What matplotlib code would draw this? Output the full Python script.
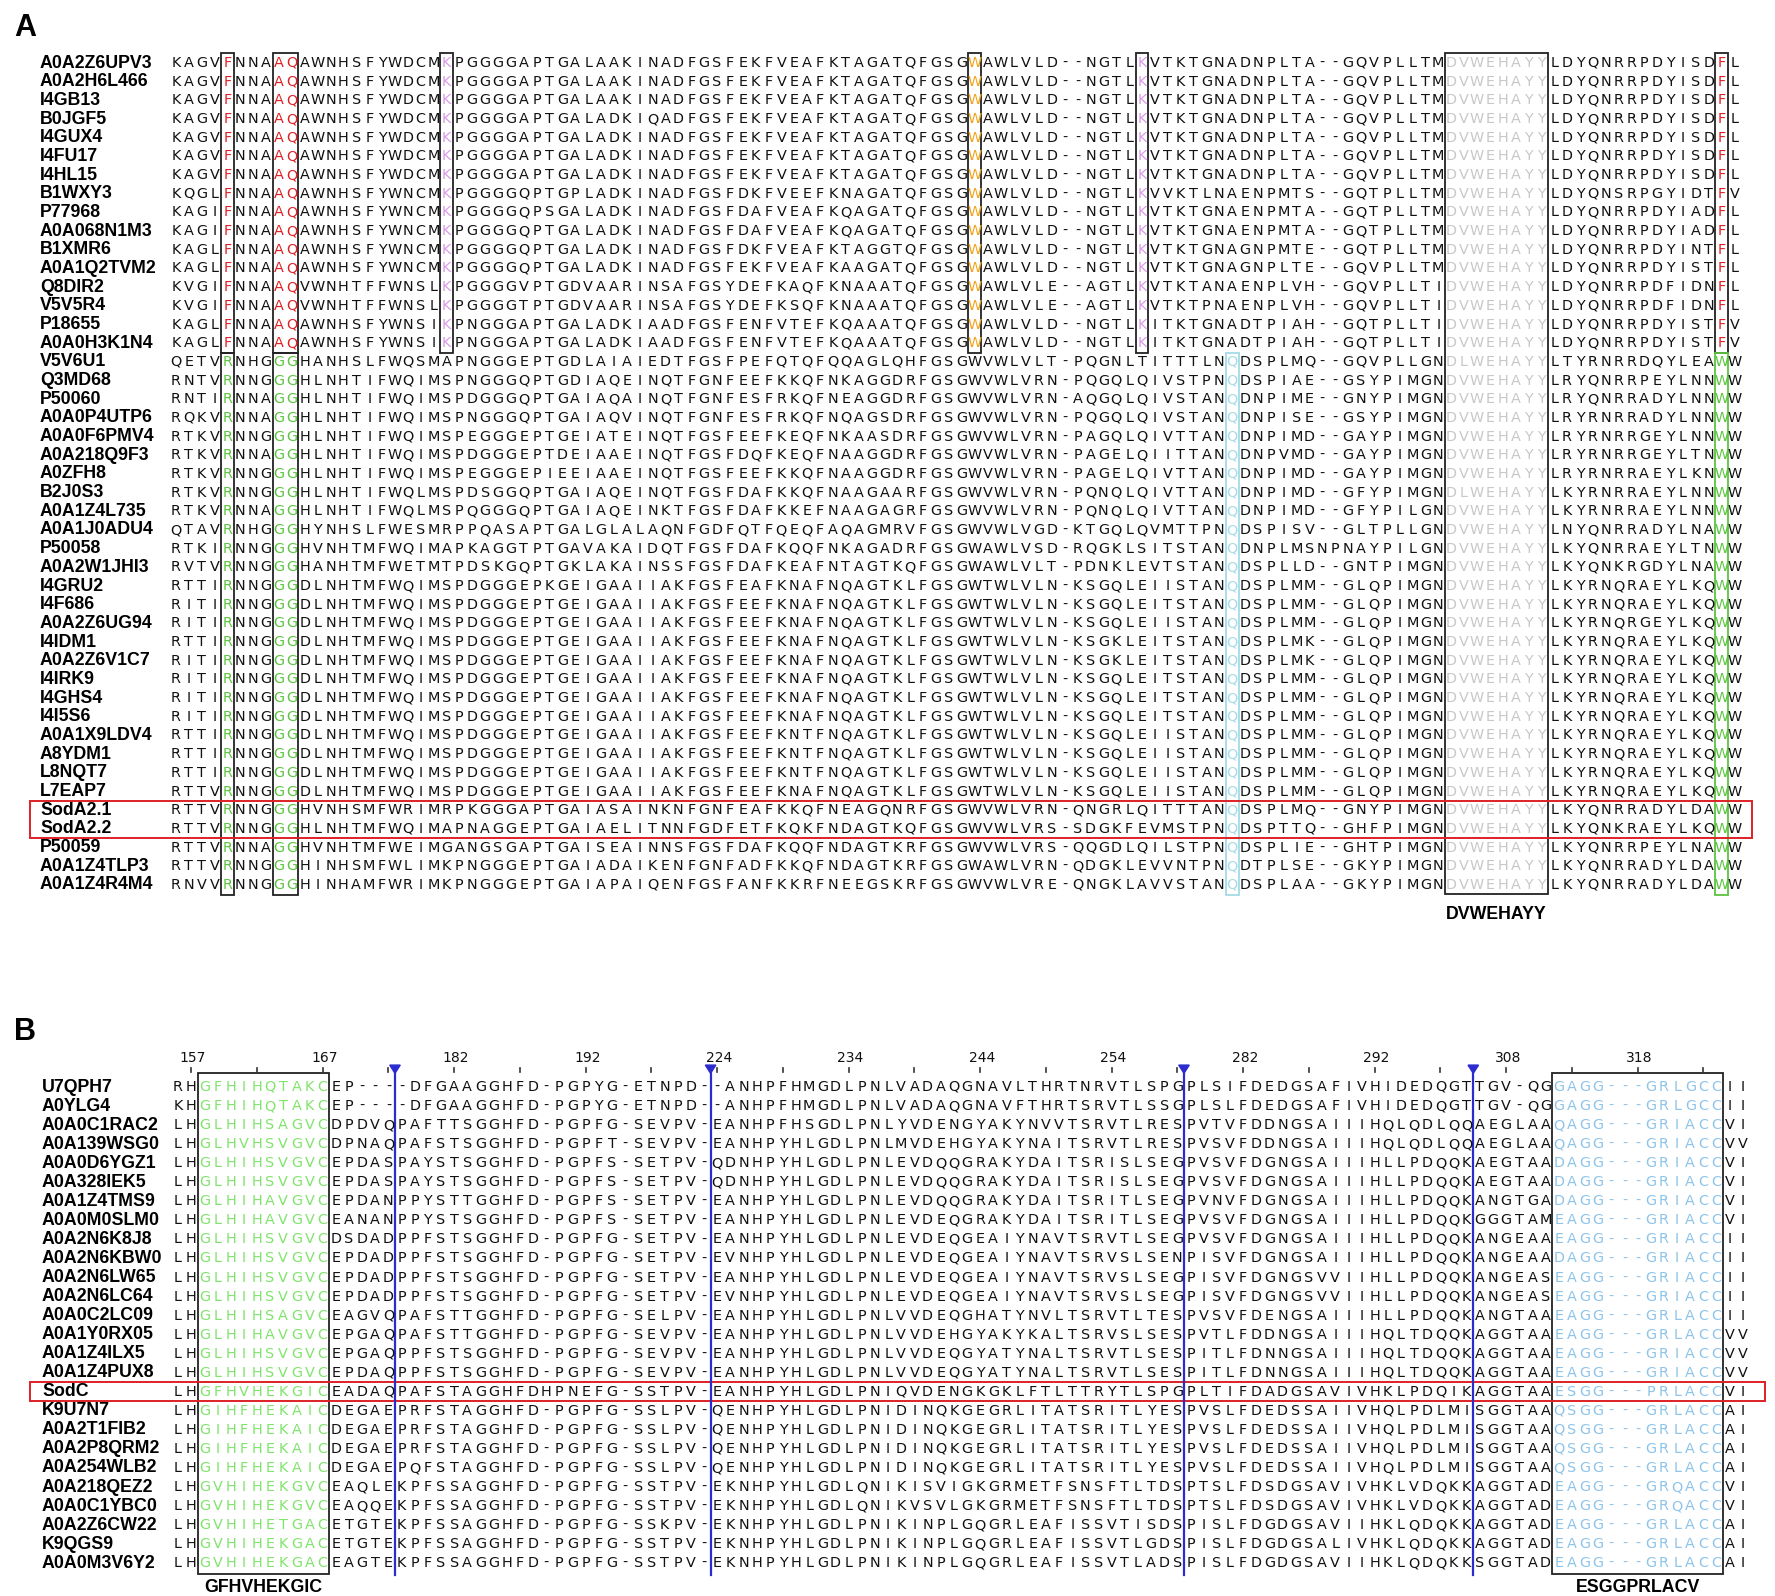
import matplotlib
matplotlib.use('Agg')
import matplotlib.pyplot as plt
from matplotlib.patches import Rectangle, Polygon

# ---------------- panel A : alignment (spaces only separate blocks) ----------------
names_a = ['A0A2Z6UPV3', 'A0A2H6L466', 'I4GB13', 'B0JGF5', 'I4GUX4', 'I4FU17', 'I4HL15',
           'B1WXY3', 'P77968', 'A0A068N1M3', 'B1XMR6', 'A0A1Q2TVM2', 'Q8DIR2', 'V5V5R4',
           'P18655', 'A0A0H3K1N4',
           'V5V6U1', 'Q3MD68', 'P50060', 'A0A0P4UTP6', 'A0A0F6PMV4', 'A0A218Q9F3', 'A0ZFH8',
           'B2J0S3', 'A0A1Z4L735', 'A0A1J0ADU4', 'P50058', 'A0A2W1JHI3', 'I4GRU2', 'I4F686',
           'A0A2Z6UG94', 'I4IDM1', 'A0A2Z6V1C7', 'I4IRK9', 'I4GHS4', 'I4I5S6', 'A0A1X9LDV4',
           'A8YDM1', 'L8NQT7', 'L7EAP7', 'SodA2.1', 'SodA2.2', 'P50059', 'A0A1Z4TLP3',
           'A0A1Z4R4M4']

seqs_a = [
    "KAGV F NNA AQ AWNHSFYWDCM K PGGGGAPTGALAAK INADFGSFEKFVEAFKTAGATQFGSG W AWLVLD--NGTL K VTKTGN A DNPLTA--GQVPLLTM DVWEHAYY LDYQNRRPDYISD F L",
    "KAGV F NNA AQ AWNHSFYWDCM K PGGGGAPTGALAAK INADFGSFEKFVEAFKTAGATQFGSG W AWLVLD--NGTL K VTKTGN A DNPLTA--GQVPLLTM DVWEHAYY LDYQNRRPDYISD F L",
    "KAGV F NNA AQ AWNHSFYWDCM K PGGGGAPTGALAAK INADFGSFEKFVEAFKTAGATQFGSG W AWLVLD--NGTL K VTKTGN A DNPLTA--GQVPLLTM DVWEHAYY LDYQNRRPDYISD F L",
    "KAGV F NNA AQ AWNHSFYWDCM K PGGGGAPTGALADK IQADFGSFEKFVEAFKTAGATQFGSG W AWLVLD--NGTL K VTKTGN A DNPLTA--GQVPLLTM DVWEHAYY LDYQNRRPDYISD F L",
    "KAGV F NNA AQ AWNHSFYWDCM K PGGGGAPTGALADK INADFGSFEKFVEAFKTAGATQFGSG W AWLVLD--NGTL K VTKTGN A DNPLTA--GQVPLLTM DVWEHAYY LDYQNRRPDYISD F L",
    "KAGV F NNA AQ AWNHSFYWDCM K PGGGGAPTGALADK INADFGSFEKFVEAFKTAGATQFGSG W AWLVLD--NGTL K VTKTGN A DNPLTA--GQVPLLTM DVWEHAYY LDYQNRRPDYISD F L",
    "KAGV F NNA AQ AWNHSFYWDCM K PGGGGAPTGALADK INADFGSFEKFVEAFKTAGATQFGSG W AWLVLD--NGTL K VTKTGN A DNPLTA--GQVPLLTM DVWEHAYY LDYQNRRPDYISD F L",
    "KQGL F NNA AQ AWNHSFYWNCM K PGGGGQPTGPLADK INADFGSFDKFVEEFKNAGATQFGSG W AWLVLD--NGTL K VVKTLN A ENPMTS--GQTPLLTM DVWEHAYY LDYQNSRPGYIDT F V",
    "KAGI F NNA AQ AWNHSFYWNCM K PGGGGQPSGALADK INADFGSFDAFVEAFKQAGATQFGSG W AWLVLD--NGTL K VTKTGN A ENPMTA--GQTPLLTM DVWEHAYY LDYQNRRPDYIAD F L",
    "KAGI F NNA AQ AWNHSFYWNCM K PGGGGQPTGALADK INADFGSFDAFVEAFKQAGATQFGSG W AWLVLD--NGTL K VTKTGN A ENPMTA--GQTPLLTM DVWEHAYY LDYQNRRPDYIAD F L",
    "KAGL F NNA AQ AWNHSFYWNCM K PGGGGQPTGALADK INADFGSFDKFVEAFKTAGGTQFGSG W AWLVLD--NGTL K VTKTGN A GNPMTE--GQTPLLTM DVWEHAYY LDYQNRRPDYINT F L",
    "KAGL F NNA AQ AWNHSFYWNCM K PGGGGQPTGALADK INADFGSFEKFVEAFKAAGATQFGSG W AWLVLD--NGTL K VTKTGN A GNPLTE--GQVPLLTM DVWEHAYY LDYQNRRPDYIST F L",
    "KVGI F NNA AQ VWNHTFFWNSL K PGGGGVPTGDVAAR INSAFGSYDEFKAQFKNAAATQFGSG W AWLVLE--AGTL K VTKTAN A ENPLVH--GQVPLLTI DVWEHAYY LDYQNRRPDFIDN F L",
    "KVGI F NNA AQ VWNHTFFWNSL K PGGGGTPTGDVAAR INSAFGSYDEFKSQFKNAAATQFGSG W AWLVLE--AGTL K VTKTPN A ENPLVH--GQVPLLTI DVWEHAYY LDYQNRRPDFIDN F L",
    "KAGL F NNA AQ AWNHSFYWNSI K PNGGGAPTGALADK IAADFGSFENFVTEFKQAAATQFGSG W AWLVLD--NGTL K ITKTGN A DTPIAH--GQTPLLTI DVWEHAYY LDYQNRRPDYIST F V",
    "KAGL F NNA AQ AWNHSFYWNSI K PNGGGAPTGALADK IAADFGSFENFVTEFKQAAATQFGSG W AWLVLD--NGTL K ITKTGN A DTPIAH--GQTPLLTI DVWEHAYY LDYQNRRPDYIST F V",
    "QETV R NHG GG HANHSLFWQSM A PNGGGEPTGDLAIA IEDTFGSFPEFQTQFQQAGLQHFGSG W VWLVLT-PQGNL T ITTTLN Q DSPLMQ--GQVPLLGN DLWEHAYY LTYRNRRDQYLEA W W",
    "RNTV R NNG GG HLNHTIFWQIM S PNGGGQPTGDIAQE INQTFGNFEEFKKQFNKAGGDRFGSG W VWLVRN-PQGQL Q IVSTPN Q DSPIAE--GSYPIMGN DVWEHAYY LRYQNRRPEYLNN W W",
    "RNTI R NNA GG HLNHTIFWQIM S PDGGGQPTGAIAQA INQTFGNFESFRKQFNEAGGDRFGSG W VWLVRN-AQGQL Q IVSTAN Q DNPIME--GNYPIMGN DVWEHAYY LRYQNRRADYLNN W W",
    "RQKV R NNA GG HLNHTIFWQIM S PNGGGQPTGAIAQV INQTFGNFESFRKQFNQAGSDRFGSG W VWLVRN-PQGQL Q IVSTAN Q DNPISE--GSYPIMGN DVWEHAYY LRYRNRRADYLNN W W",
    "RTKV R NNG GG HLNHTIFWQIM S PEGGGEPTGEIATE INQTFGSFEEFKEQFNKAASDRFGSG W VWLVRN-PAGQL Q IVTTAN Q DNPIMD--GAYPIMGN DVWEHAYY LRYRNRRGEYLNN W W",
    "RTKV R NNA GG HLNHTIFWQIM S PDGGGEPTDEIAAE INQTFGSFDQFKEQFNAAGGDRFGSG W VWLVRN-PAGEL Q IITTAN Q DNPVMD--GAYPIMGN DVWEHAYY LRYRNRRGEYLTN W W",
    "RTKV R NNG GG HLNHTIFWQIM S PEGGGEPIEEIAAE INQTFGSFEEFKKQFNAAGGDRFGSG W VWLVRN-PAGEL Q IVTTAN Q DNPIMD--GAYPIMGN DVWEHAYY LRYRNRRAEYLKN W W",
    "RTKV R NNG GG HLNHTIFWQLM S PDSGGQPTGAIAQE INQTFGSFDAFKKQFNAAGAARFGSG W VWLVRN-PQNQL Q IVTTAN Q DNPIMD--GFYPIMGN DLWEHAYY LKYRNRRAEYLNN W W",
    "RTKV R NNA GG HLNHTIFWQLM S PQGGGQPTGAIAQE INKTFGSFDAFKKEFNAAGAGRFGSG W VWLVRN-PQNQL Q IVTTAN Q DNPIMD--GFYPILGN DVWEHAYY LKYRNRRAEYLNN W W",
    "QTAV R NHG GG HYNHSLFWESM R PPQASAPTGALGLA LAQNFGDFQTFQEQFAQAGMRVFGSG W VWLVGD-KTGQL Q VMTTPN Q DSPISV--GLTPLLGN DVWEHAYY LNYQNRRADYLNA W W",
    "RTKI R NNG GG HVNHTMFWQIM A PKAGGTPTGAVAKA IDQTFGSFDAFKQQFNKAGADRFGSG W AWLVSD-RQGKL S ITSTAN Q DNPLMSNPNAYPILGN DVWEHAYY LKYQNRRAEYLTN W W",
    "RVTV R NNG GG HANHTMFWETM T PDSKGQPTGKLAKA INSSFGSFDAFKEAFNTAGTKQFGSG W AWLVLT-PDNKL E VTSTAN Q DSPLLD--GNTPIMGN DVWEHAYY LKYQNKRGDYLNA W W",
    "RTTI R NNG GG DLNHTMFWQIM S PDGGGEPKGEIGAA IIAKFGSFEAFKNAFNQAGTKLFGSG W TWLVLN-KSGQL E IISTAN Q DSPLMM--GLQPIMGN DVWEHAYY LKYRNQRAEYLKQ W W",
    "RITI R NNG GG DLNHTMFWQIM S PDGGGEPTGEIGAA IIAKFGSFEEFKNAFNQAGTKLFGSG W TWLVLN-KSGQL E ITSTAN Q DSPLMM--GLQPIMGN DVWEHAYY LKYRNQRAEYLKQ W W",
    "RITI R NNG GG DLNHTMFWQIM S PDGGGEPTGEIGAA IIAKFGSFEEFKNAFNQAGTKLFGSG W TWLVLN-KSGQL E IISTAN Q DSPLMM--GLQPIMGN DVWEHAYY LKYRNQRGEYLKQ W W",
    "RTTI R NNG GG DLNHTMFWQIM S PDGGGEPTGEIGAA IIAKFGSFEEFKNAFNQAGTKLFGSG W TWLVLN-KSGKL E ITSTAN Q DSPLMK--GLQPIMGN DVWEHAYY LKYRNQRAEYLKQ W W",
    "RITI R NNG GG DLNHTMFWQIM S PDGGGEPTGEIGAA IIAKFGSFEEFKNAFNQAGTKLFGSG W TWLVLN-KSGKL E ITSTAN Q DSPLMK--GLQPIMGN DVWEHAYY LKYRNQRAEYLKQ W W",
    "RITI R NNG GG DLNHTMFWQIM S PDGGGEPTGEIGAA IIAKFGSFEEFKNAFNQAGTKLFGSG W TWLVLN-KSGQL E ITSTAN Q DSPLMM--GLQPIMGN DVWEHAYY LKYRNQRAEYLKQ W W",
    "RITI R NNG GG DLNHTMFWQIM S PDGGGEPTGEIGAA IIAKFGSFEEFKNAFNQAGTKLFGSG W TWLVLN-KSGQL E ITSTAN Q DSPLMM--GLQPIMGN DVWEHAYY LKYRNQRAEYLKQ W W",
    "RITI R NNG GG DLNHTMFWQIM S PDGGGEPTGEIGAA IIAKFGSFEEFKNAFNQAGTKLFGSG W TWLVLN-KSGQL E ITSTAN Q DSPLMM--GLQPIMGN DVWEHAYY LKYRNQRAEYLKQ W W",
    "RTTI R NNG GG DLNHTMFWQIM S PDGGGEPTGEIGAA IIAKFGSFEEFKNTFNQAGTKLFGSG W TWLVLN-KSGQL E IISTAN Q DSPLMM--GLQPIMGN DVWEHAYY LKYRNQRAEYLKQ W W",
    "RTTI R NNG GG DLNHTMFWQIM S PDGGGEPTGEIGAA IIAKFGSFEEFKNTFNQAGTKLFGSG W TWLVLN-KSGQL E IISTAN Q DSPLMM--GLQPIMGN DVWEHAYY LKYRNQRAEYLKQ W W",
    "RTTI R NNG GG DLNHTMFWQIM S PDGGGEPTGEIGAA IIAKFGSFEEFKNTFNQAGTKLFGSG W TWLVLN-KSGQL E IISTAN Q DSPLMM--GLQPIMGN DVWEHAYY LKYRNQRAEYLKQ W W",
    "RTTV R NNG GG DLNHTMFWQIM S PDGGGEPTGEIGAA IIAKFGSFEEFKNAFNQAGTKLFGSG W TWLVLN-KSGQL E IISTAN Q DSPLMM--GLQPIMGN DVWEHAYY LKYRNQRAEYLKQ W W",
    "RTTV R NNG GG HVNHSMFWRIM R PKGGGAPTGAIASA INKNFGNFEAFKKQFNEAGQNRFGSG W VWLVRN-QNGRL Q ITTTAN Q DSPLMQ--GNYPIMGN DVWEHAYY LKYQNRRADYLDA W W",
    "RTTV R NNG GG HLNHTMFWQIM A PNAGGEPTGAIAEL ITNNFGDFETFKQKFNDAGTKQFGSG W VWLVRS-SDGKF E VMSTPN Q DSPTTQ--GHFPIMGN DVWEHAYY LKYQNKRAEYLKQ W W",
    "RTTV R NNA GG HVNHTMFWEIM G ANGSGAPTGAISEA INNSFGSFDAFKQQFNDAGTKRFGSG W VWLVRS-QQGDL Q ILSTPN Q DSPLIE--GHTPIMGN DVWEHAYY LKYQNRRPEYLNA W W",
    "RTTV R NNG GG HINHSMFWLIM K PNGGGEPTGAIADA IKENFGNFADFKKQFNDAGTKRFGSG W AWLVRN-QDGKL E VVNTPN Q DTPLSE--GKYPIMGN DVWEHAYY LKYQNRRADYLDA W W",
    "RNVV R NNG GG HINHAMFWRIM K PNGGGEPTGAIAPA IQENFGSFANFKKRFNEEGSKRFGSG W VWLVRE-QNGKL A VVSTAN Q DSPLAA--GKYPIMGN DVWEHAYY LKYQNRRADYLDA W W",
]
n_top_a = 16            # Fe-type group above, Mn-type group below
highlight_a = [40, 41]  # SodA2.1 / SodA2.2

# ---------------- panel B ----------------
names_b = ['U7QPH7', 'A0YLG4', 'A0A0C1RAC2', 'A0A139WSG0', 'A0A0D6YGZ1', 'A0A328IEK5',
           'A0A1Z4TMS9', 'A0A0M0SLM0', 'A0A2N6K8J8', 'A0A2N6KBW0', 'A0A2N6LW65', 'A0A2N6LC64',
           'A0A0C2LC09', 'A0A1Y0RX05', 'A0A1Z4ILX5', 'A0A1Z4PUX8', 'SodC', 'K9U7N7',
           'A0A2T1FIB2', 'A0A2P8QRM2', 'A0A254WLB2', 'A0A218QEZ2', 'A0A0C1YBC0', 'A0A2Z6CW22',
           'K9QGS9', 'A0A0M3V6Y2']

seqs_b = [
    "RH GFHIHQTAKC EP--- -DFGAAGGHFD-PGPYG-ETNPD- -ANHPFHMGDLPNLVADAQGNAVLTHRTNRVTLSPG PLSIFDEDGSAFIVHIDEDQGT TGV-QG GAGG---GRLGCC II",
    "KH GFHIHQTAKC EP--- -DFGAAGGHFD-PGPYG-ETNPD- -ANHPFHMGDLPNLVADAQGNAVFTHRTSRVTLSSG PLSLFDEDGSAFIVHIDEDQGT TGV-QG GAGG---GRLGCC II",
    "LH GLHIHSAGVC DPDVQ PAFTTSGGHFD-PGPFG-SEVPV- EANHPFHSGDLPNLYVDENGYAKYNVVTSRVTLRES PVTVFDDNGSAIIIHQLQDLQQ AEGLAA QAGG---GRIACC VI",
    "LH GLHVHSVGVC DPNAQ PAFSTSGGHFD-PGPFT-SEVPV- EANHPYHLGDLPNLMVDEHGYAKYNAITSRVTLRES PVSVFDDNGSAIIIHQLQDLQQ AEGLAA QAGG---GRIACC VV",
    "LH GLHIHSVGVC EPDAS PAYSTSGGHFD-PGPFS-SETPV- QDNHPYHLGDLPNLEVDQQGRAKYDAITSRISLSEG PVSVFDGNGSAIIIHLLPDQQK AEGTAA DAGG---GRIACC VI",
    "LH GLHIHSVGVC EPDAS PAYSTSGGHFD-PGPFS-SETPV- QDNHPYHLGDLPNLEVDQQGRAKYDAITSRISLSEG PVSVFDGNGSAIIIHLLPDQQK AEGTAA DAGG---GRIACC VI",
    "LH GLHIHAVGVC EPDAN PPYSTTGGHFD-PGPFS-SETPV- EANHPYHLGDLPNLEVDQQGRAKYDAITSRITLSEG PVNVFDGNGSAIIIHLLPDQQK ANGTGA DAGG---GRIACC VI",
    "LH GLHIHAVGVC EANAN PPYSTSGGHFD-PGPFS-SETPV- EANHPYHLGDLPNLEVDEQGRAKYDAITSRITLSEG PVSVFDGNGSAIIIHLLPDQQK GGGTAM EAGG---GRIACC VI",
    "LH GLHIHSVGVC DSDAD PPFSTSGGHFD-PGPFG-SETPV- EANHPYHLGDLPNLEVDEQGEAIYNAVTSRVTLSEG PVSVFDGNGSAIIIHLLPDQQK ANGEAA EAGG---GRIACC II",
    "LH GLHIHSVGVC EPDAD PPFSTSGGHFD-PGPFG-SETPV- EVNHPYHLGDLPNLEVDEQGEAIYNAVTSRVSLSEN PISVFDGNGSAIIIHLLPDQQK ANGEAA DAGG---GRIACC II",
    "LH GLHIHSVGVC EPDAD PPFSTSGGHFD-PGPFG-SETPV- EANHPYHLGDLPNLEVDEQGEAIYNAVTSRVSLSEG PISVFDGNGSVVIIHLLPDQQK ANGEAS EAGG---GRIACC II",
    "LH GLHIHSVGVC EPDAD PPFSTSGGHFD-PGPFG-SETPV- EVNHPYHLGDLPNLEVDEQGEAIYNAVTSRVSLSEG PISVFDGNGSVVIIHLLPDQQK ANGEAS EAGG---GRIACC II",
    "LH GLHIHSAGVC EAGVQ PAFSTTGGHFD-PGPFG-SELPV- EANHPYHLGDLPNLVVDEQGHATYNVLTSRVTLTES PVSVFDENGSAIIIHLLPDQQK ANGTAA EAGG---GRLACC II",
    "LH GLHIHAVGVC EPGAQ PAFSTTGGHFD-PGPFG-SEVPV- EANHPYHLGDLPNLVVDEHGYAKYKALTSRVSLSES PVTLFDDNGSAIIIHQLTDQQK AGGTAA EAGG---GRLACC VV",
    "LH GLHIHSVGVC EPGAQ PPFSTSGGHFD-PGPFG-SEVPV- EANHPYHLGDLPNLVVDEQGYATYNALTSRVTLSES PITLFDNNGSAIIIHQLTDQQK AGGTAA EAGG---GRIACC VV",
    "LH GLHIHSVGVC EPDAQ PPFSTSGGHFD-PGPFG-SEVPV- EANHPYHLGDLPNLVVDEQGYATYNALTSRVTLSES PITLFDNNGSAIIIHQLTDQQK AGGTAA EAGG---GRIACC VV",
    "LH GFHVHEKGIC EADAQ PAFSTAGGHFDHPNEFG-SSTPV- EANHPYHLGDLPNIQVDENGKGKLFTLTTRYTLSPG PLTIFDADGSAVIVHKLPDQIK AGGTAA ESGG---PRLACC VI",
    "LH GIHFHEKAIC DEGAE PRFSTAGGHFD-PGPFG-SSLPV- QENHPYHLGDLPNIDINQKGEGRLITATSRITLYES PVSLFDEDSSAIIVHQLPDLMI SGGTAA QSGG---GRLACC AI",
    "LH GIHFHEKAIC DEGAE PRFSTAGGHFD-PGPFG-SSLPV- QENHPYHLGDLPNIDINQKGEGRLITATSRITLYES PVSLFDEDSSAIIVHQLPDLMI SGGTAA QSGG---GRLACC AI",
    "LH GIHFHEKAIC DEGAE PRFSTAGGHFD-PGPFG-SSLPV- QENHPYHLGDLPNIDINQKGEGRLITATSRITLYES PVSLFDEDSSAIIVHQLPDLMI SGGTAA QSGG---GRLACC AI",
    "LH GIHFHEKAIC DEGAE PQFSTAGGHFD-PGPFG-SSLPV- QENHPYHLGDLPNIDINQKGEGRLITATSRITLYES PVSLFDEDSSAIIVHQLPDLMI SGGTAA QSGG---GRLACC AI",
    "LH GVHIHEKGVC EAQLE KPFSSAGGHFD-PGPFG-SSTPV- EKNHPYHLGDLQNIKISVIGKGRMETFSNSFTLTDS PTSLFDSDGSAVIVHKLVDQKK AGGTAD EAGG---GRQACC VI",
    "LH GVHIHEKGVC EAQQE KPFSSAGGHFD-PGPFG-SSTPV- EKNHPYHLGDLQNIKVSVLGKGRMETFSNSFTLTDS PTSLFDSDGSAVIVHKLVDQKK AGGTAD EAGG---GRQACC VI",
    "LH GVHIHETGAC ETGTE KPFSSAGGHFD-PGPFG-SSKPV- EKNHPYHLGDLPNIKINPLGQGRLEAFISSVTISDS PISLFDGDGSAVIIHKLQDQKK AGGTAD EAGG---GRLACC AI",
    "LH GVHIHEKGAC ETGTE KPFSSAGGHFD-PGPFG-SSTPV- EKNHPYHLGDLPNIKINPLGQGRLEAFISSVTLGDS PISLFDGDGSALIVHKLQDQKK AGGTAD EAGG---GRLACC AI",
    "LH GVHIHEKGAC EAGTE KPFSSAGGHFD-PGPFG-SSTPV- EKNHPYHLGDLPNIKINPLGQGRLEAFISSVTLADS PISLFDGDGSAVIIHKLQDQKK SGGTAD EAGG---GRLACC AI",
]
highlight_b = 16  # SodC
tick_cols_b = [2, 12, 22, 32, 42, 52, 62, 72, 82, 92, 102, 112]
tick_labels_b = ['157', '167', '182', '192', '224', '234', '244', '254', '282', '292', '308', '318']
minor_cols_b = [7, 17, 27, 37, 47, 57, 67, 77, 87, 97, 107, 117]
gap_cols_b = [17.5, 41.5, 77.5, 99.5]   # removed-region markers

# colours
RED = '#de2126'
GREEN_A = '#5cc43f'
MAGENTA = '#d99be8'
ORANGE = '#f2a31c'
CYAN = '#a3dbe6'
GRAY = '#c8c8c8'
GREEN_B = '#80e46c'
LBLUE = '#8ec4ea'
BLUE = '#2b2bd0'
INK = '#111111'

seqs_a = [s.replace(' ', '') for s in seqs_a]
seqs_b = [s.replace(' ', '') for s in seqs_b]

W, H = 1775, 1596
fig = plt.figure(figsize=(W / 100, H / 100), dpi=100)
fig.patch.set_facecolor('white')

# pixel grid of the two alignments
x0a, dxa, y0a, dya = 176, 12.88, 63, 18.68
x0b, dxb, y0b, dyb = 178, 13.15, 1087, 19.05
split = 950

ax_a = fig.add_axes([0, 1 - split / H, 1, split / H])
ax_a.set_xlim(1 - x0a / dxa, 1 + (W - x0a) / dxa)
ax_a.set_ylim((split - y0a) / dya, -y0a / dya)
ax_a.axis('off')

ax_b = fig.add_axes([0, 0, 1, (H - split) / H])
ax_b.set_xlim(1 - x0b / dxb, 1 + (W - x0b) / dxb)
ax_b.set_ylim((H - y0b) / dyb, (split - y0b) / dyb)
ax_b.axis('off')

name_font = dict(family=['Liberation Sans', 'DejaVu Sans'], weight='bold', fontsize=12.8)
seq_font = dict(family='DejaVu Sans', fontsize=10.4)


def colour_a(r, c):
    top = r < n_top_a
    if 100 <= c <= 107:
        return GRAY
    if c in (5, 9, 10, 121):
        return RED if top else GREEN_A
    if top and c in (22, 76):
        return MAGENTA
    if top and c == 63:
        return ORANGE
    if (not top) and c == 83:
        return CYAN
    return INK


def colour_b(c):
    if 3 <= c <= 12:
        return GREEN_B
    if 106 <= c <= 118:
        return LBLUE
    return INK


# ---- panel A ----
fig.text(14 / W, 1 - 28 / H, 'A', fontsize=22, weight='bold', va='center',
         family=['Liberation Sans', 'DejaVu Sans'])
for r, (nm, s) in enumerate(zip(names_a, seqs_a)):
    ax_a.text(1 + (40 - x0a) / dxa, r, nm, ha='left', va='center', **name_font)
    for c, ch in enumerate(s, start=1):
        ax_a.text(c, r, ch, ha='center', va='center', color=colour_a(r, c), **seq_font)

n_a = len(seqs_a)
n_bot = n_a - n_top_a
box = dict(fill=False, lw=1.3, edgecolor='#222222')
for c0, w in [(5, 1), (9, 2)]:
    ax_a.add_patch(Rectangle((c0 - 0.5, -0.55), w, n_top_a + 0.05, **box))
    ax_a.add_patch(Rectangle((c0 - 0.5, n_top_a - 0.5), w, n_bot + 0.05, **box))
for c0 in (22, 63, 76, 121):
    ax_a.add_patch(Rectangle((c0 - 0.5, -0.55), 1, n_top_a + 0.05, **box))
ax_a.add_patch(Rectangle((82.5, n_top_a - 0.5), 1, n_bot + 0.05, fill=False, lw=1.3,
                         edgecolor=CYAN))
ax_a.add_patch(Rectangle((120.5, n_top_a - 0.5), 1, n_bot + 0.05, fill=False, lw=1.3,
                         edgecolor=GREEN_A))
ax_a.add_patch(Rectangle((99.5, -0.55), 8, n_a + 0.05, **box))
ax_a.text(103.5, n_a + 0.6, 'DVWEHAYY', ha='center', va='center', fontsize=12.8,
          weight='bold', family=['Liberation Sans', 'DejaVu Sans'])
# red frame around SodA2.1 / SodA2.2
xl = 1 + (30 - x0a) / dxa
xr = 1 + (1752 - x0a) / dxa
ax_a.add_patch(Rectangle((xl, highlight_a[0] - 0.5), xr - xl, len(highlight_a),
                         fill=False, lw=1.4, edgecolor=RED))

# ---- panel B ----
fig.text(14 / W, 1 - 1032 / H, 'B', fontsize=22, weight='bold', va='center',
         family=['Liberation Sans', 'DejaVu Sans'])
for r, (nm, s) in enumerate(zip(names_b, seqs_b)):
    ax_b.text(1 + (42 - x0b) / dxb, r, nm, ha='left', va='center', **name_font)
    for c, ch in enumerate(s, start=1):
        ax_b.text(c, r, ch, ha='center', va='center', color=colour_b(c), **seq_font)

n_b = len(seqs_b)
for c, lab in zip(tick_cols_b, tick_labels_b):
    ax_b.plot([c, c], [-1.02, -0.78], color='#333333', lw=1.2)
    ax_b.text(c + 0.15, -1.5, lab, ha='center', va='center', fontsize=10,
              family='DejaVu Sans', color=INK)
for c in minor_cols_b:
    ax_b.plot([c, c], [-0.98, -0.8], color='#333333', lw=1.2)

ax_b.add_patch(Rectangle((2.5, -0.75), 10, n_b + 0.3, **box))
ax_b.add_patch(Rectangle((105.5, -0.75), 13, n_b + 0.3, **box))
for g in gap_cols_b:
    ax_b.plot([g, g], [-0.95, n_b - 0.4], color=BLUE, lw=1.6)
    ax_b.add_patch(Polygon([[g - 0.4, -1.15], [g + 0.4, -1.15], [g, -0.72]],
                           closed=True, color=BLUE))
ax_b.text(7.5, n_b + 0.25, 'GFHVHEKGIC', ha='center', va='center', fontsize=12.8,
          weight='bold', family=['Liberation Sans', 'DejaVu Sans'])
ax_b.text(112, n_b + 0.25, 'ESGGPRLACV', ha='center', va='center', fontsize=12.8,
          weight='bold', family=['Liberation Sans', 'DejaVu Sans'])
xl = 1 + (30 - x0b) / dxb
xr = 1 + (1765 - x0b) / dxb
ax_b.add_patch(Rectangle((xl, highlight_b - 0.5), xr - xl, 1, fill=False, lw=1.4,
                         edgecolor=RED))

fig.savefig('out.png', dpi=100, facecolor='white')
